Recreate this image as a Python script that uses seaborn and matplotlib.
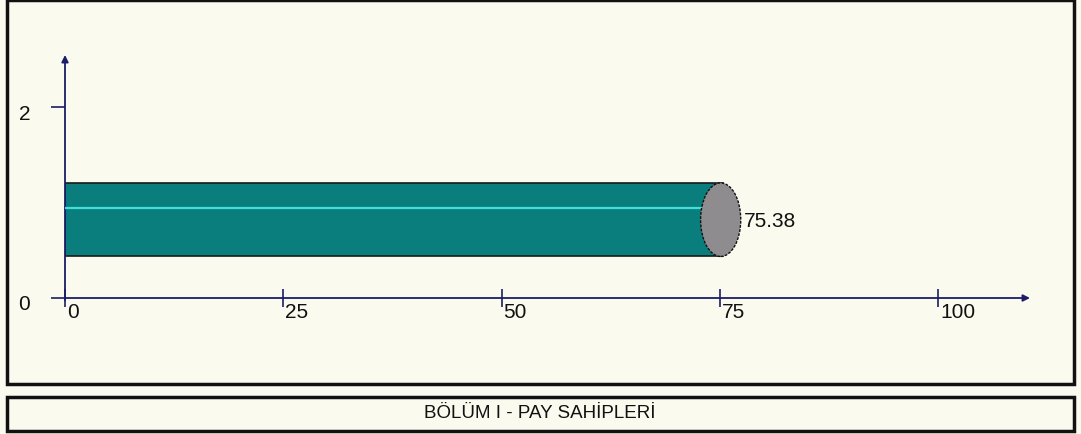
import matplotlib
matplotlib.use('Agg')
import matplotlib.pyplot as plt
import matplotlib.patches as mpatches
import matplotlib.transforms as mtrans
import seaborn as sns

# chart data
values = [75.38]
bar_positions = [0.82]
value_labels = ['75.38']
x_ticks = [0, 25, 50, 75, 100]
x_tick_labels = ['0', '25', '50', '75', '100']
y_ticks = [0, 2]
y_tick_labels = ['0', '2']
footer_title = 'BÖLÜM I - PAY SAHİPLERİ'

bg = '#FAFAEF'
axis_col = '#1C1C6A'
bar_col = '#0A7E7C'

sns.set_theme(style='white')
plt.rcParams['font.family'] = ['Liberation Sans', 'DejaVu Sans']

fig = plt.figure(figsize=(10.81, 4.34), dpi=100)
fig.patch.set_facecolor(bg)

W, H = 1081, 434
ax = fig.add_axes([65 / W, (H - 298) / H, (1030 - 65) / W, (298 - 55) / H])
ax.set_facecolor('none')

sns.barplot(x=values, y=bar_positions, orient='h', native_scale=True,
            width=0.77, color=bar_col, saturation=1, edgecolor='#1a1a1a',
            linewidth=1.2, ax=ax)

ax.set_xlim(0, 110.5)
ax.set_ylim(0, 2.545)

# cylinder end cap and highlight
cap_w = 4.6
for v, p, lab in zip(values, bar_positions, value_labels):
    ax.hlines(p + 0.12, 0, v - cap_w / 2, color='#3FE0DC', lw=1.6, zorder=4)
    ax.add_patch(mpatches.Ellipse((v - 0.3, p), cap_w, 0.77, facecolor='#8E8C8E',
                                  edgecolor='#111111', lw=1.0, linestyle=(0, (2, 1)),
                                  zorder=5))
    ax.text(v + cap_w / 2 + 0.1, p - 0.02, lab, fontsize=15, va='center',
            ha='left', color='#111111')

for s in ax.spines.values():
    s.set_visible(False)

# axis lines with arrows
ax.annotate('', xy=(1.0, 0), xytext=(0, 0), xycoords='axes fraction',
            arrowprops=dict(arrowstyle='-|>', color=axis_col, lw=1.3,
                            mutation_scale=10, shrinkA=0, shrinkB=0))
ax.annotate('', xy=(0, 1.0), xytext=(0, -0.01), xycoords='axes fraction',
            arrowprops=dict(arrowstyle='-|>', color=axis_col, lw=1.3,
                            mutation_scale=10, shrinkA=0, shrinkB=0))

ax.set_xticks(x_ticks)
ax.set_xticklabels(x_tick_labels, ha='left', fontsize=15, color='#111111')
ax.set_yticks(y_ticks)
ax.set_yticklabels(y_tick_labels, fontsize=15, color='#111111')
ax.tick_params(axis='x', direction='inout', length=13, width=1.2, color=axis_col,
               pad=-3, bottom=True)
ax.tick_params(axis='y', direction='out', length=10, width=1.2, color=axis_col,
               pad=15, left=True)
off = mtrans.ScaledTranslation(2 / 100, 0, fig.dpi_scale_trans)
for lab in ax.get_xticklabels():
    lab.set_transform(lab.get_transform() + off)
off_y = mtrans.ScaledTranslation(0, -5 / 100, fig.dpi_scale_trans)
for lab in ax.get_yticklabels():
    lab.set_transform(lab.get_transform() + off_y)
ax.set_xlabel('')
ax.set_ylabel('')

# outer frames
fig.patches.append(mpatches.Rectangle((7 / W, (H - 384) / H), (1074 - 7) / W, 384 / H,
                                      transform=fig.transFigure, fill=False,
                                      edgecolor='#111111', lw=2.5))
fig.patches.append(mpatches.Rectangle((7 / W, (H - 431) / H), (1074 - 7) / W, 34 / H,
                                      transform=fig.transFigure, fill=False,
                                      edgecolor='#111111', lw=2.5))
fig.text(540 / W, (H - 414) / H, footer_title, ha='center', va='center',
         fontsize=13.5, color='#111111')

fig.savefig('out.png', dpi=100, facecolor=bg)
